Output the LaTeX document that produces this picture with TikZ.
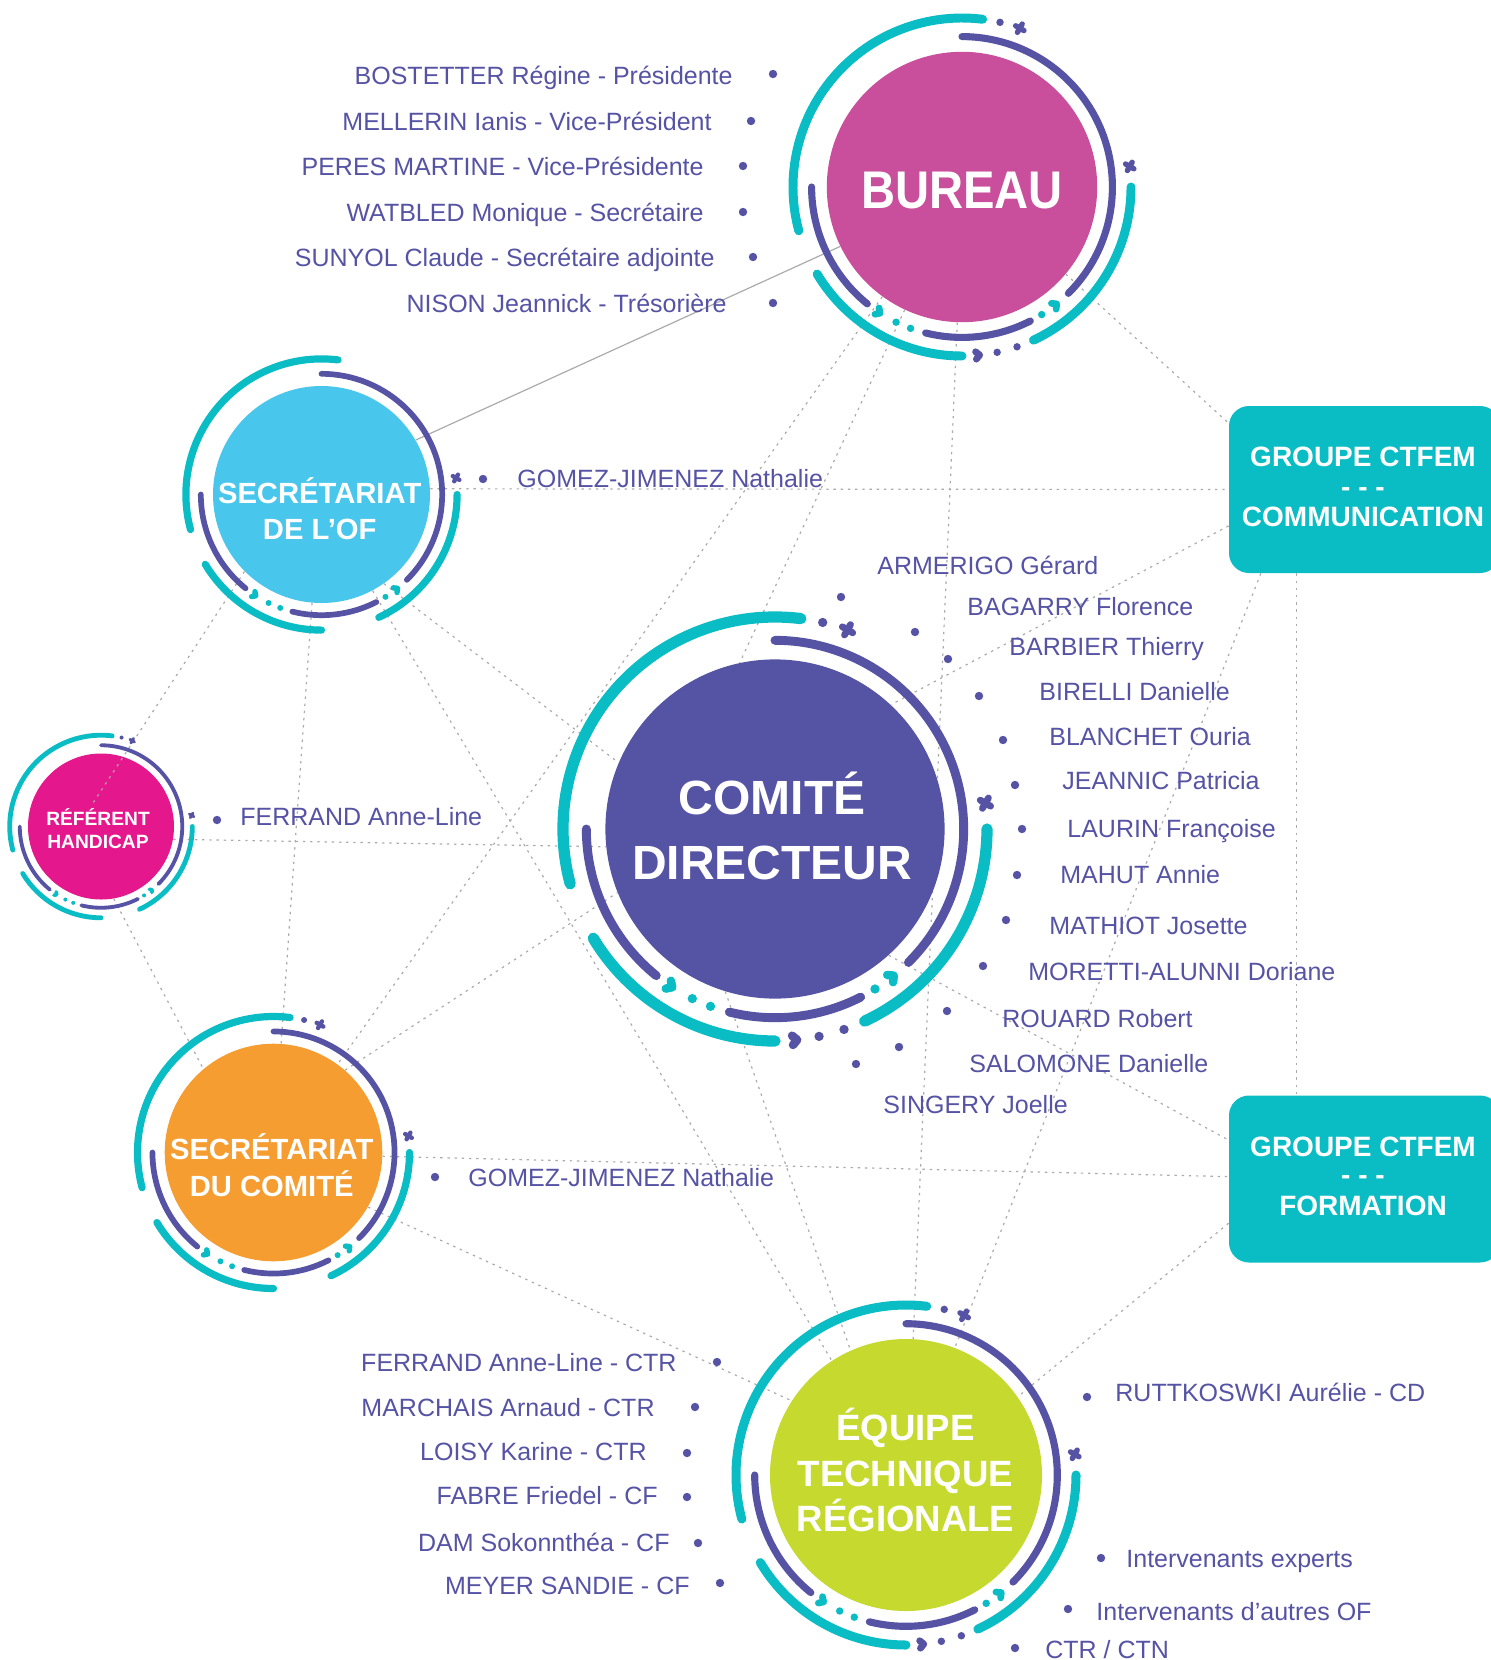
\documentclass[tikz,border=0pt]{standalone}
\usepackage{fontspec}
\setmainfont{Liberation Sans}
\usepackage{graphicx}
\usetikzlibrary{backgrounds}
\definecolor{tealc}{HTML}{0ABCC4}
\definecolor{purp}{HTML}{5653A5}
\definecolor{bureauc}{HTML}{C94E9B}
\definecolor{comitec}{HTML}{5553A3}
\definecolor{secofc}{HTML}{49C6EC}
\definecolor{refc}{HTML}{E5178C}
\definecolor{seccomc}{HTML}{F59D30}
\definecolor{equipec}{HTML}{C6D92F}
\definecolor{linec}{HTML}{ABABAB}
\newcommand\mychev[4]{%
  \pgfmathsetmacro\chs{0.022*#4}%
  \pgfmathsetmacro\chw{0.02*#4}%
  \begin{scope}[shift={(#2:#3)}, rotate=#2+90]
    \draw[#1, line width=\chw pt, line cap=round, line join=round] (-\chs,\chs) -- (0,0) -- (-\chs,-\chs);
  \end{scope}}
\newcommand\mycross[3]{%
  \pgfmathsetmacro\crs{0.02*#3}%
  \pgfmathsetmacro\crw{0.016*#3}%
  \begin{scope}[shift={(#1:#2)}, rotate=15]
    \draw[purp, line width=\crw pt, line cap=round] (-\crs,-\crs) -- (\crs,\crs) (-\crs,\crs) -- (\crs,-\crs);
  \end{scope}}
\newcommand\ringdeco[4]{%
  \begin{scope}[shift={(#1)}]
  \pgfmathsetmacro\rO{#2}%
  \pgfmathsetmacro\rI{0.89*#2}%
  \pgfmathsetmacro\tw{0.0265*#2}%
  \pgfmathsetmacro\pw{0.021*#2}%
  \pgfmathsetmacro\dr{0.022*#2}%
  \draw[tealc, line width=\tw pt, line cap=round] (83:\rO) arc[start angle=83, end angle=195, radius=\rO] (211:\rO) arc[start angle=211, end angle=270, radius=\rO] (-65:\rO) arc[start angle=-65, end angle=0, radius=\rO];
  \draw[purp, line width=\pw pt, line cap=round] (-45:\rI) arc[start angle=-45, end angle=90, radius=\rI] (180:\rI) arc[start angle=180, end angle=231, radius=\rI] (256:\rI) arc[start angle=256, end angle=297, radius=\rI];
  \fill[tealc] (-58:\rI) circle[radius=\dr] (244:\rI) circle[radius=\dr] (250:\rI) circle[radius=\dr];
  \mychev{tealc}{-51}{\rI}{#2}
  \mychev{tealc}{237}{\rI}{#2}
  \mycross{7}{\rO}{#2}
  \ifnum#3=1 \fill[purp] (77:\rO) circle[radius=\dr]; \mycross{70}{\rO}{#2}\fi
  \ifnum#4=1 \mychev{purp}{276}{\rO}{#2}\fill[purp] (282:\rO) circle[radius=\dr] (289:\rO) circle[radius=\dr];\fi
  \end{scope}}
\newcommand\bul[1]{\fill[purp] #1 circle[radius=4.2];}
\tikzset{
  nm/.style={text=purp, font=\fontsize{12.5}{15}\selectfont, inner sep=0pt},
  ttl/.style={text=white, inner sep=0pt},
  circ/.style={circle, inner sep=0pt, draw=none},
  gbox/.style={fill=tealc, rounded corners=10pt, inner sep=0pt, minimum width=135.5pt, minimum height=83.5pt},
  btxt/.style={text=white, inner sep=0pt, font=\bfseries\fontsize{14}{16}\selectfont},
  dotln/.style={draw=linec, line width=0.6pt, dash pattern=on 1.2pt off 2.4pt},
  solidln/.style={draw=linec, line width=0.6pt},
}
\begin{document}
\begin{tikzpicture}[x=0.5pt, y=0.5pt]
\useasboundingbox (0,0) rectangle (1491,-1660);
% circles
\node[circ, fill=bureauc, minimum size=135.2pt] (bureau) at (962,-187) {};
\node[circ, fill=comitec, minimum size=169.6pt] (comite) at (775,-829) {};
\node[circ, fill=secofc, minimum size=108.5pt] (secof) at (321.5,-494.5) {};
\node[circ, fill=refc, minimum size=73pt] (refh) at (101,-826.5) {};
\node[circ, fill=seccomc, minimum size=108.8pt] (seccom) at (273.5,-1152.5) {};
\node[circ, fill=equipec, minimum size=136pt] (equipe) at (906,-1475) {};
\coordinate (refmid) at (93,-803);
\draw[dotln] (secof.225) -- (refmid);
\ringdeco{bureau}{169}{1}{1}
\ringdeco{comite}{212}{1}{1}
\ringdeco{secof}{135.6}{0}{0}
\ringdeco{refh}{91.3}{1}{0}
\ringdeco{seccom}{136}{1}{0}
\ringdeco{equipe}{170}{1}{1}
% boxes
\node[gbox] (gcomm) at (1364.5,-489.5) {};
\node[gbox] (gform) at (1364.5,-1179) {};
% titles
\node[ttl, anchor=base, font=\bfseries\fontsize{26.5}{30}\selectfont] (tbur) at (962,-208) {\scalebox{0.89}[1]{BUREAU}};
\node[ttl, anchor=base, font=\bfseries\fontsize{24}{28}\selectfont] (tcom1) at (772,-814) {COMITÉ};
\node[ttl, anchor=base, font=\bfseries\fontsize{24}{28}\selectfont] (tcom2) at (772,-879) {DIRECTEUR};
\node[ttl, anchor=base, font=\bfseries\fontsize{14.6}{17}\selectfont] (tsof1) at (319.7,-503) {SECRÉTARIAT};
\node[ttl, anchor=base, font=\bfseries\fontsize{14.6}{17}\selectfont] (tsof2) at (319.7,-539.5) {DE L’OF};
\node[ttl, anchor=base, font=\bfseries\fontsize{14.6}{17}\selectfont] (tsc1) at (271.7,-1159.5) {SECRÉTARIAT};
\node[ttl, anchor=base, font=\bfseries\fontsize{14.6}{17}\selectfont] (tsc2) at (271.7,-1196.5) {DU COMITÉ};
\node[ttl, anchor=base, font=\bfseries\fontsize{9.6}{11}\selectfont] (tref1) at (98,-825) {RÉFÉRENT};
\node[ttl, anchor=base, font=\bfseries\fontsize{9.6}{11}\selectfont] (tref2) at (98,-848) {HANDICAP};
\node[ttl, anchor=base, font=\bfseries\fontsize{18.3}{21}\selectfont] (teq1) at (905.5,-1440) {ÉQUIPE};
\node[ttl, anchor=base, font=\bfseries\fontsize{18.3}{21}\selectfont] (teq2) at (905.5,-1486.7) {TECHNIQUE};
\node[ttl, anchor=base, font=\bfseries\fontsize{18.3}{21}\selectfont] (teq3) at (905.5,-1531.7) {RÉGIONALE};
\node[btxt, anchor=base] (tgc1) at (1363,-466.7) {GROUPE CTFEM};
\node[btxt, anchor=center] (tgc2) at (1363,-492.5) {- - -};
\node[btxt, anchor=base] (tgc3) at (1363,-526.7) {COMMUNICATION};
\node[btxt, anchor=base] (tgf1) at (1363,-1156) {GROUPE CTFEM};
\node[btxt, anchor=center] (tgf2) at (1363,-1180.5) {- - -};
\node[btxt, anchor=base] (tgf3) at (1363,-1215) {FORMATION};
% bureau names
\node[nm, anchor=base east] (b1) at (733,-84) {BOSTETTER Régine - Présidente};
\node[nm, anchor=base east] (b2) at (712,-130) {MELLERIN Ianis - Vice-Président};
\node[nm, anchor=base east] (b3) at (704,-175) {PERES MARTINE - Vice-Présidente};
\node[nm, anchor=base east] (b4) at (704,-221) {WATBLED Monique - Secrétaire};
\node[nm, anchor=base east] (b5) at (715,-266) {SUNYOL Claude - Secrétaire adjointe};
\node[nm, anchor=base east] (b6) at (727,-312) {NISON Jeannick - Trésorière};
\bul{(773,-74)}\bul{(751,-121)}\bul{(743,-166)}\bul{(743,-212)}\bul{(753,-257)}\bul{(773,-303)}
% secretariat OF
\node[nm, anchor=base west] (s1) at (517,-487) {GOMEZ-JIMENEZ Nathalie};
\bul{(483,-479)}
% referent
\node[nm, anchor=base west] (r1) at (240,-825.5) {FERRAND Anne-Line};
\bul{(217,-820)}
% sec comite
\node[nm, anchor=base west] (sc1) at (468,-1186) {GOMEZ-JIMENEZ Nathalie};
\bul{(435,-1177)}
% comite names
\node[nm, anchor=base west] (c1) at (877,-574) {ARMERIGO Gérard};
\node[nm, anchor=base west] (c2) at (967,-615) {BAGARRY Florence};
\node[nm, anchor=base west] (c3) at (1009,-655) {BARBIER Thierry};
\node[nm, anchor=base west] (c4) at (1039,-700) {BIRELLI Danielle};
\node[nm, anchor=base west] (c5) at (1049,-745) {BLANCHET Ouria};
\node[nm, anchor=base west] (c6) at (1062,-789) {JEANNIC Patricia};
\node[nm, anchor=base west] (c7) at (1067,-837) {LAURIN Françoise};
\node[nm, anchor=base west] (c8) at (1060,-883) {MAHUT Annie};
\node[nm, anchor=base west] (c9) at (1049,-934) {MATHIOT Josette};
\node[nm, anchor=base west] (c10) at (1028,-980) {MORETTI-ALUNNI Doriane};
\node[nm, anchor=base west] (c11) at (1002,-1027) {ROUARD Robert};
\node[nm, anchor=base west] (c12) at (969,-1072) {SALOMONE Danielle};
\node[nm, anchor=base west] (c13) at (883,-1113) {SINGERY Joelle};
\bul{(841,-597)}\bul{(915,-632)}\bul{(948,-659)}\bul{(979,-696)}\bul{(1003,-740)}\bul{(1015,-785)}\bul{(1022,-829)}
\bul{(1017,-875)}\bul{(1006,-920)}\bul{(983,-966)}\bul{(947,-1011)}\bul{(899,-1047)}\bul{(856,-1064)}
% equipe names
\node[nm, anchor=base east] (e1) at (677,-1371) {FERRAND Anne-Line - CTR};
\node[nm, anchor=base east] (e2) at (655,-1416) {MARCHAIS Arnaud - CTR};
\node[nm, anchor=base east] (e3) at (647,-1460) {LOISY Karine - CTR};
\node[nm, anchor=base east] (e4) at (658,-1504) {FABRE Friedel - CF};
\node[nm, anchor=base east] (e5) at (670,-1551) {DAM Sokonnthéa - CF};
\node[nm, anchor=base east] (e6) at (690,-1594) {MEYER SANDIE - CF};
\bul{(717,-1362)}\bul{(695,-1407)}\bul{(687,-1453)}\bul{(687,-1497)}\bul{(698,-1543)}\bul{(720,-1583)}
\node[nm, anchor=base west] (e7) at (1115,-1401) {RUTTKOSWKI Aurélie - CD};
\node[nm, anchor=base west] (e8) at (1126,-1567) {Intervenants experts};
\node[nm, anchor=base west] (e9) at (1096,-1620) {Intervenants d’autres OF};
\node[nm, anchor=base west] (e10) at (1045,-1658) {CTR / CTN};
\bul{(1087,-1397)}\bul{(1101,-1558)}\bul{(1068,-1609)}\bul{(1015,-1648)}
% connectors
\begin{scope}[on background layer]
\fill[white] (0,0) rectangle (1491,-1660);
\draw[solidln] (bureau.206) -- (secof.30);
\draw[dotln] (bureau.-40) -- (gcomm.154);
\draw[dotln] (secof.3) -- (gcomm.180);
\draw[dotln] (gcomm.231) -- (gform.129);
\draw[dotln] (gcomm.219) -- (equipe.69);
\draw[dotln] (gcomm.195) -- (comite.47);
\draw[dotln] (bureau.268) -- (equipe.87);
\draw[dotln] (bureau.234) -- (seccom.54);
\draw[dotln] (bureau.245) -- (comite.102);
\draw[dotln] (secof.-55) -- (comite.157);
\draw[dotln] (secof.-62) -- (equipe.123);
\draw[dotln] (secof.265) -- (seccom.86);
\draw[dotln] (refh.-10) -- (comite.186);
\draw[dotln] (refh.-80) -- (seccom.130);
\draw[dotln] (seccom.49) -- (comite.202);
\draw[dotln] (seccom.-2) -- (gform.179);
\draw[dotln] (seccom.-30) -- (equipe.147);
\draw[dotln] (comite.253) -- (equipe.114);
\draw[dotln] (comite.-48) -- (gform.164);
\draw[dotln] (gform.198) -- (equipe.35);
\end{scope}
\end{tikzpicture}
\end{document}
